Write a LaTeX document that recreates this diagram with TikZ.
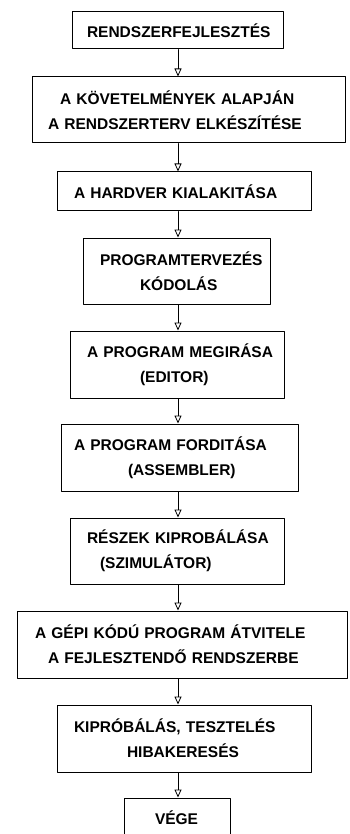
\documentclass[tikz,border=0pt]{standalone}
\usepackage{fontspec}
\setmainfont{Liberation Sans}
\usetikzlibrary{arrows.meta, calc}

\tikzset{
  stepbox/.style={draw, line width=1pt, inner xsep=0pt, inner ysep=0pt, align=left,
    font=\fontsize{15.5}{25}\selectfont\bfseries},
  flow/.style={->, line width=0.8pt},
}
\newcommand{\ind}[1]{\hspace*{#1pt}}

\begin{document}
\begin{tikzpicture}[x=1pt, y=-1pt, line cap=round, line join=round, >={Triangle[open,length=8pt,width=7pt]}]
		% page frame
		\useasboundingbox (0,0) rectangle (349,834);
		\coordinate (axis) at (178,0); % arrows run on this line

		% steps
		\node[stepbox, minimum width=211pt, text width=211pt, minimum height=37pt] (rf) at (177.5,30.5)
			{\ind{15}RENDSZERFEJLESZTÉS};
		\node[stepbox, minimum width=313pt, text width=313pt, minimum height=66pt] (terv) at (188.5,110)
			{\ind{28}A KÖVETELMÉNYEK ALAPJÁN\\ \ind{16}A RENDSZERTERV ELKÉSZÍTÉSE};
		\node[stepbox, minimum width=254pt, text width=254pt, minimum height=39pt] (hw) at (184,191.5)
			{\ind{17}A HARDVER KIALAKITÁSA};
		\node[stepbox, minimum width=187pt, text width=187pt, minimum height=66pt] (kod) at (176.5,271)
			{\ind{17}PROGRAMTERVEZÉS\\ \ind{57}KÓDOLÁS};
		\node[stepbox, minimum width=214pt, text width=214pt, minimum height=67pt] (edit) at (177,364.5)
			{\ind{17}A PROGRAM MEGIRÁSA\\ \ind{70}(EDITOR)};
		\node[stepbox, minimum width=237pt, text width=237pt, minimum height=67pt] (asm) at (179.5,457.5)
			{\ind{13}A PROGRAM FORDITÁSA\\ \ind{67}(ASSEMBLER)};
		\node[stepbox, minimum width=214pt, text width=214pt, minimum height=66pt] (szim) at (177,551)
			{\ind{17}RÉSZEK KIPROBÁLÁSA\\ \ind{30}(SZIMULÁTOR)};
		\node[stepbox, minimum width=330pt, text width=330pt, minimum height=67pt] (atv) at (182,644.5)
			{\ind{18}A GÉPI KÓDÚ PROGRAM ÁTVITELE\\ \ind{31}A FEJLESZTENDŐ RENDSZERBE};
		\node[stepbox, minimum width=254pt, text width=254pt, minimum height=67pt] (teszt) at (184,738.5)
			{\ind{17}KIPRÓBÁLÁS, TESZTELÉS\\ \ind{70}HIBAKERESÉS};
		\node[stepbox, minimum width=106pt, text width=106pt, minimum height=39pt] (vege) at (177,817.5)
			{\ind{31}VÉGE};

		% arrows
		\foreach \a/\b in {rf/terv, terv/hw, hw/kod, kod/edit, edit/asm, asm/szim, szim/atv, atv/teszt, teszt/vege}
			\draw [flow] (\a.south -| axis)--(\b.north -| axis);
\end{tikzpicture}
\end{document}
